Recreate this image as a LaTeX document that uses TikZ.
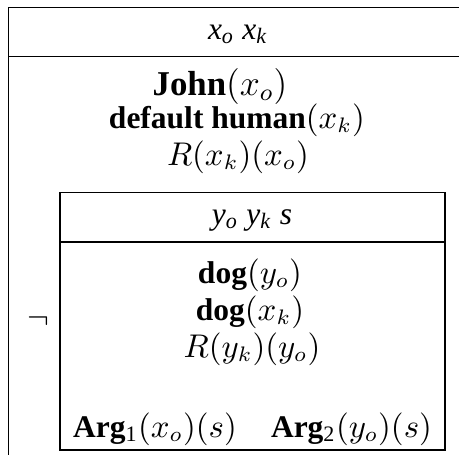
\documentclass[tikz,border=0pt]{standalone}
\usepackage[no-math]{fontspec}
\setmainfont{Liberation Serif}[
  UprightFont={Liberation Serif},
  BoldFont={Liberation Serif Bold},
  ItalicFont={Liberation Serif Italic},
  BoldItalicFont={Liberation Serif Bold Italic}]
\begin{document}
\begin{tikzpicture}[x=0.33333pt,y=-0.33333pt,line width=0.4pt,
  txt/.style={inner sep=0pt,anchor=base,font=\fontsize{10.5}{12}\selectfont},
  bigtxt/.style={inner sep=0pt,anchor=base,font=\fontsize{11.6}{14}\selectfont},
  boxline/.style={draw=black,line width=0.4pt}]
\useasboundingbox (0,0) rectangle (459,455);
% outer box (extends beyond the frame on the right and bottom)
\coordinate (oTL) at (8.7,7.3);
\coordinate (oTR) at (459,7.3);
\coordinate (oBL) at (8.7,455);
\coordinate (oHL) at (8.7,56.7);
\coordinate (oHR) at (459,56.7);
\draw[boxline] (oTR) -- (oTL) -- (oBL);
\draw[boxline] (oHL) -- (oHR);
% inner box
\coordinate (iTL) at (60,192.7);
\coordinate (iBR) at (445,450);
\coordinate (iHL) at (60,242);
\coordinate (iHR) at (445,242);
\draw[boxline] (iTL) rectangle (iBR);
\draw[boxline] (iHL) -- (iHR);
% outer texts
\node[txt] (oh) at (238,39) {\textit{x}\textsubscript{\textit{o}} \textit{x}\textsubscript{\textit{k}}};
\node[bigtxt] (c1) at (220,95) {\textbf{John}$(x_o)$};
\node[txt] (c2) at (237,128) {\textbf{default human}$(x_k)$};
\node[txt] (c3) at (238,165) {$R(x_k)(x_o)$};
% negation
\node[inner sep=0pt,font=\fontsize{10.5}{12}\selectfont] (neg) at (38,321) {$\neg$};
% inner texts
\node[txt] (ih) at (252,224) {\textit{y}\textsubscript{\textit{o}} \textit{y}\textsubscript{\textit{k}} \textit{s}};
\node[txt] (d1) at (250,283) {\textbf{dog}$(y_o)$};
\node[txt] (d2) at (250,320) {\textbf{dog}$(x_k)$};
\node[txt] (d3) at (252,357) {$R(y_k)(y_o)$};
\node[txt] (a1) at (155,437) {\textbf{Arg}\textsubscript{1}$(x_o)(s)$};
\node[txt] (a2) at (351.5,437) {\textbf{Arg}\textsubscript{2}$(y_o)(s)$};
\end{tikzpicture}
\end{document}
